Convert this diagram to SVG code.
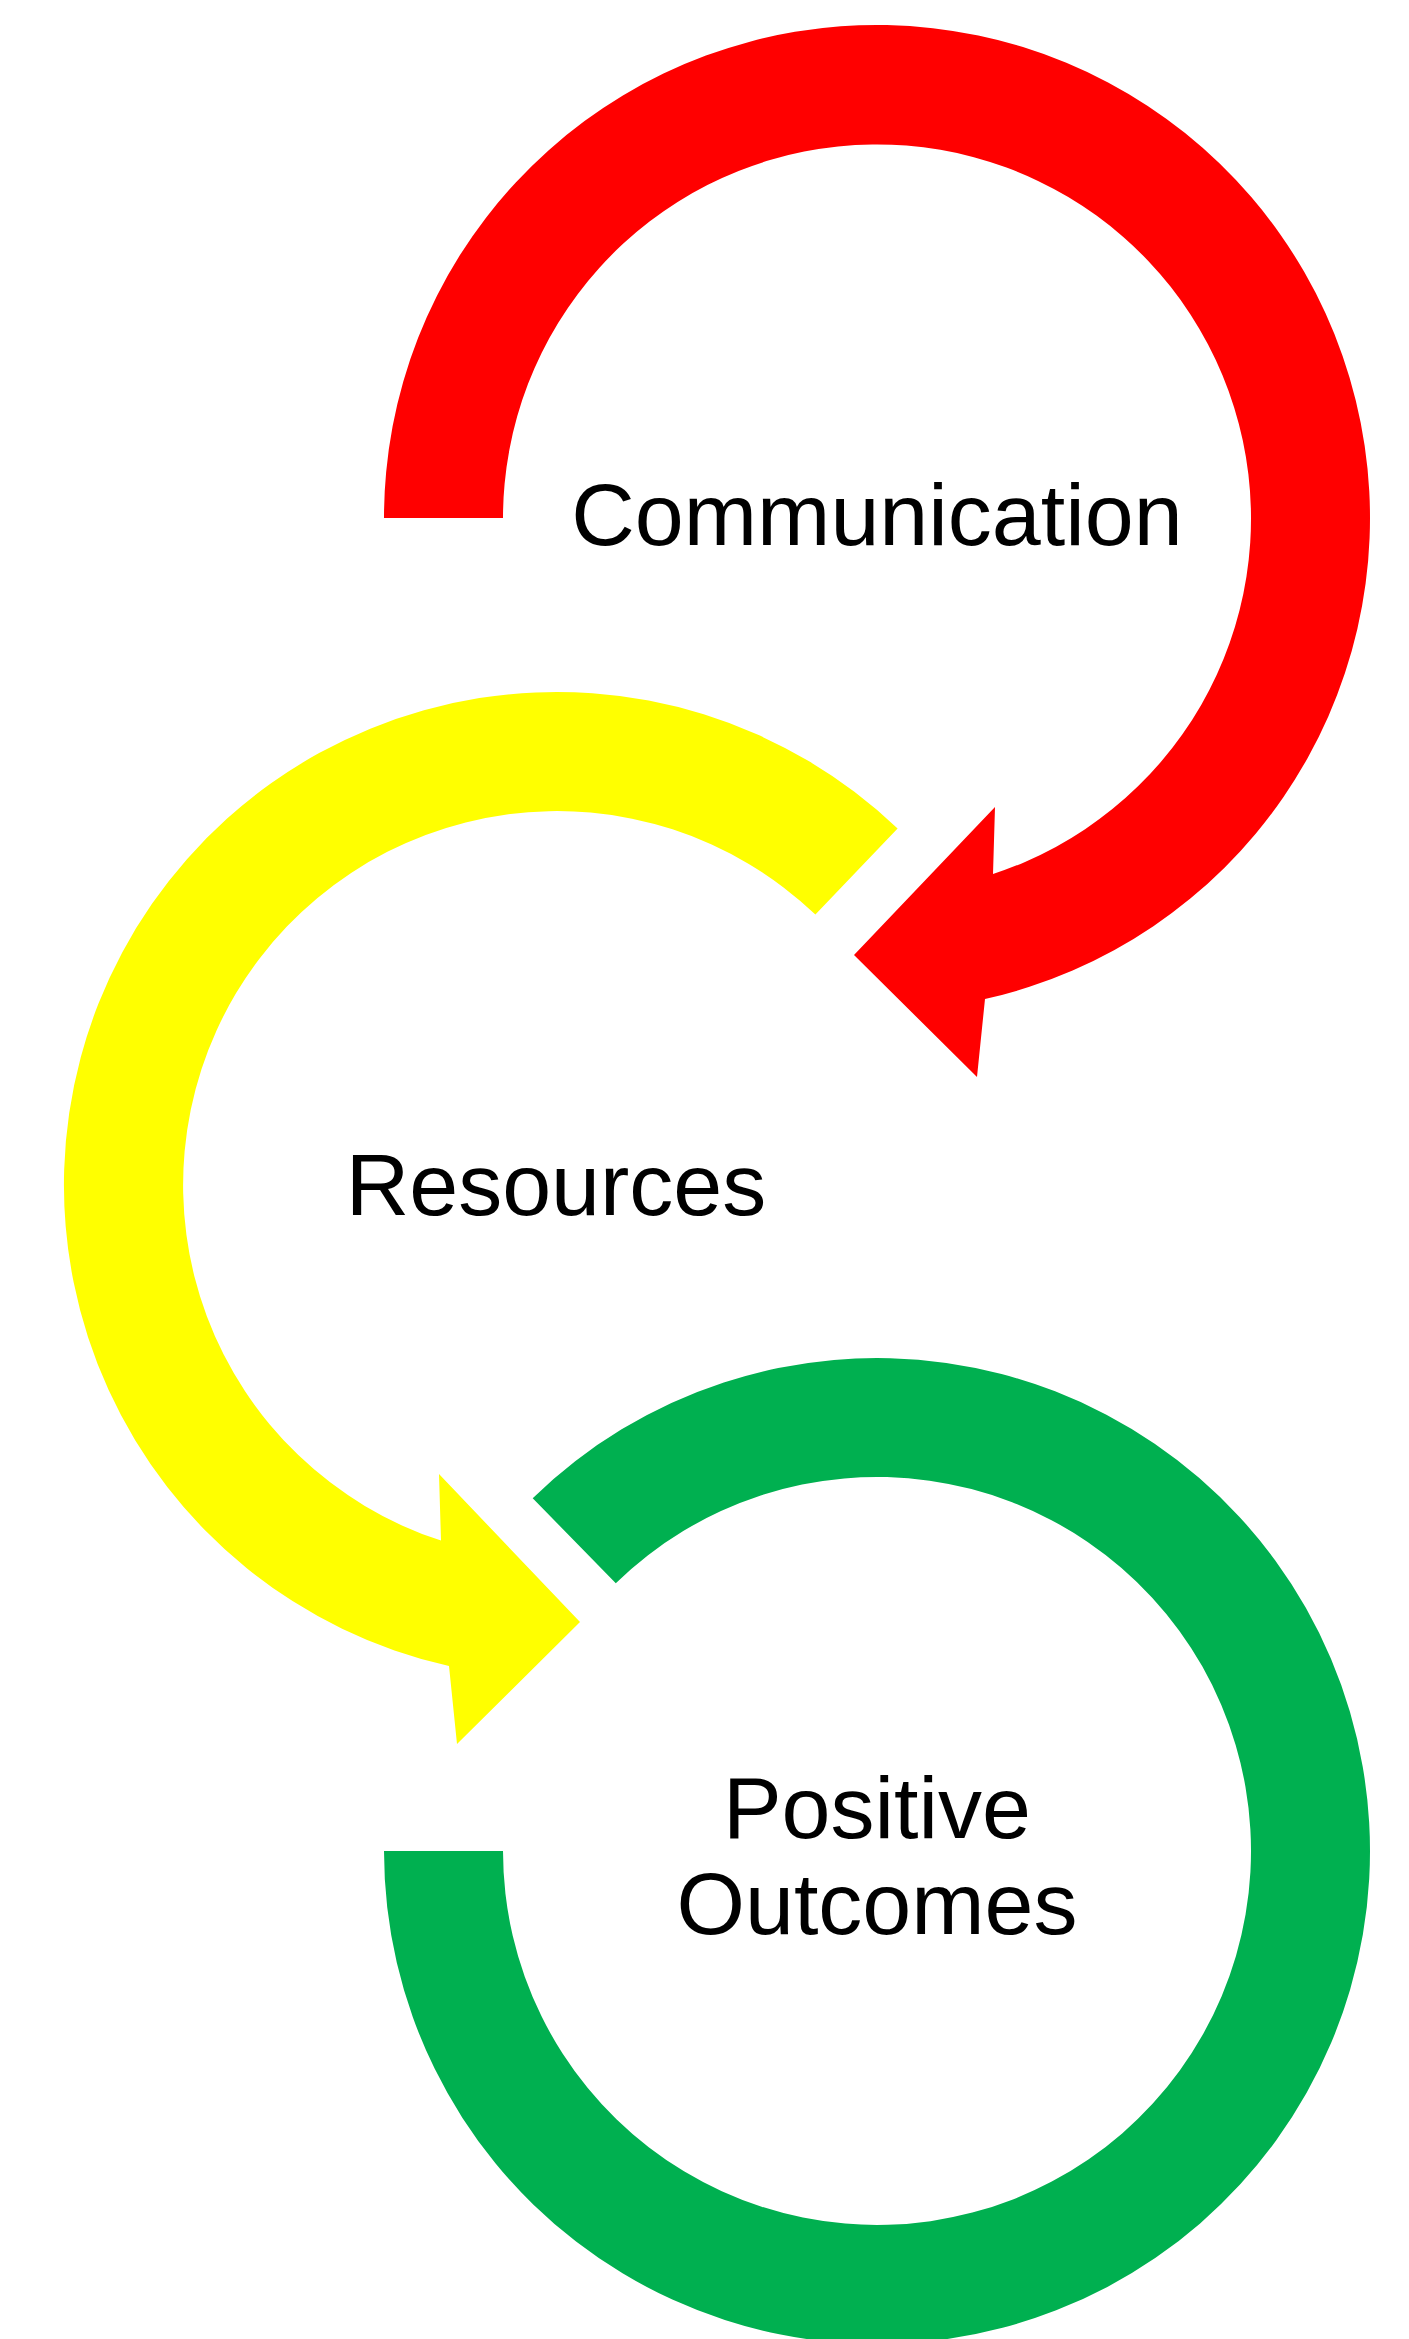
<svg xmlns="http://www.w3.org/2000/svg" width="1409" height="2339" viewBox="0 0 1409 2339">
  <style>
    .lbl { font-family: "Liberation Sans", Arial, sans-serif; font-size: 88px; fill: #000; text-anchor: middle; }
    .red { fill: #FF0000; }
    .yellow { fill: #FFFF00; }
    .green { fill: #00B050; }
  </style>
  <rect width="1409" height="2339" fill="#fff"/>
  <g id="connectors">
    <path id="arrow-red" class="red" d="M 384 518 A 493 493 0 1 1 985 999 L 977 1077 L 854 955 L 995 807 L 993 874 A 374 374 0 1 0 503 518 Z"/>
    <path id="arrow-yellow" class="yellow" d="M 897.6 828.6 A 493 493 0 1 0 449 1666 L 457 1744 L 580 1622 L 439 1474 L 441 1540.6 A 374 374 0 1 1 815.4 914.6 Z"/>
    <path id="arc-green" class="green" d="M 532.7 1498.2 A 493 493 0 1 1 384 1851 L 503 1851 A 374 374 0 1 0 615.8 1583.3 Z"/>
  </g>
  <g id="node-communication">
    <text class="lbl" x="877" y="545">Communication</text>
  </g>
  <g id="node-resources">
    <text class="lbl" x="556" y="1215">Resources</text>
  </g>
  <g id="node-positive-outcomes">
    <text class="lbl" x="877" y="1838">Positive</text>
    <text class="lbl" x="877" y="1934">Outcomes</text>
  </g>
</svg>
